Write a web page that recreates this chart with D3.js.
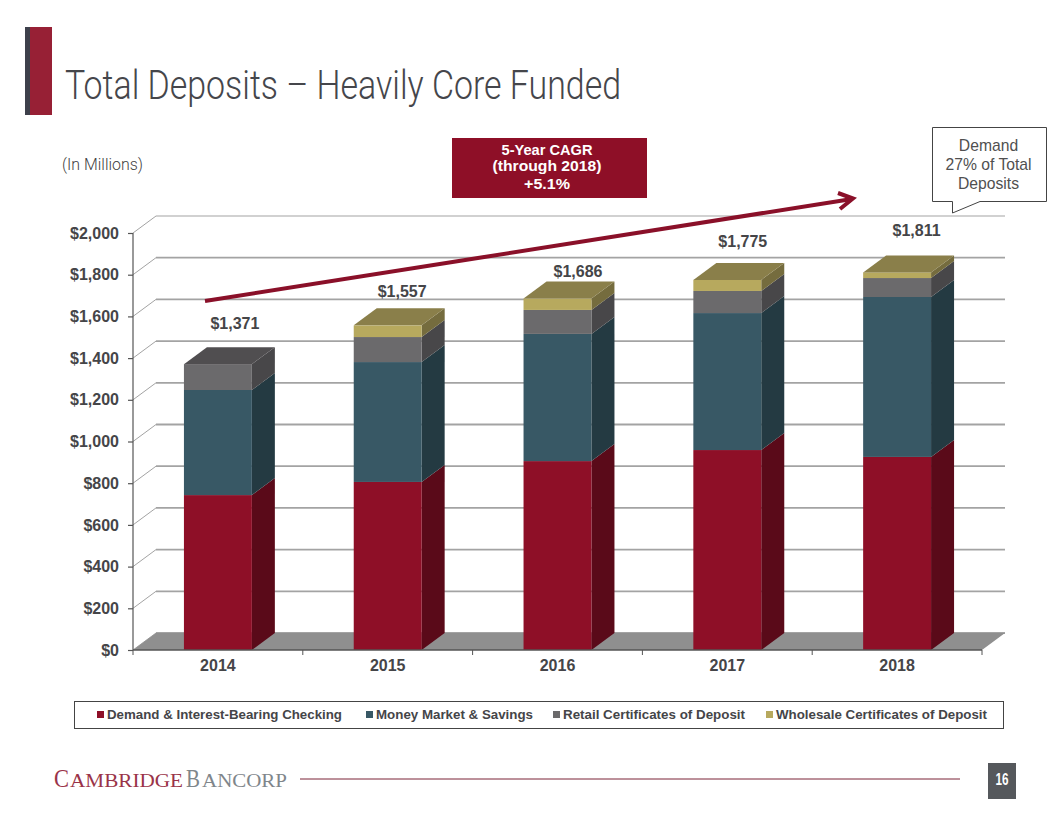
<!DOCTYPE html>
<html><head><meta charset="utf-8">
<script src="https://cdnjs.cloudflare.com/ajax/libs/d3/7.8.5/d3.min.js"></script>
<style>html,body{margin:0;padding:0;background:#fff}svg{display:block}text{font-family:"Liberation Sans",Arial,sans-serif}</style>
</head><body><svg id="c" width="1056" height="816"></svg>
<script>
const years=["2014","2015","2016","2017","2018"];
const seriesNames=["Demand & Interest-Bearing Checking","Money Market & Savings","Retail Certificates of Deposit","Wholesale Certificates of Deposit"];
const demand=[743,806,906,959,926];
const moneyMarket=[504,575,610,657,767];
const retailCd=[124,120,115,106,91];
const wholesaleCd=[0,56,55,53,27];
const totals=[1371,1557,1686,1775,1811];
const yTicks=[0,200,400,600,800,1000,1200,1400,1600,1800,2000];

const frontColors=["#8e0f27","#385865","#6b6a6c","#b7a95e"];
const sideColors=["#5a0a19","#243a42","#484749","#756c3e"];
const topColors=["#5f0b1b","#26404a","#504e50","#8a7f4a"];
const labelGap=[23,16,9,21,24];
const labelShift=[5.5,3,9,4,8];

const svg=d3.select("#c");
const ink="#454548";
const depthX=23, depthY=17;
const x=d3.scaleBand().domain(years).range([133,982]).paddingInner(0.6).paddingOuter(0.3);
const y=d3.scaleLinear().domain([0,2000]).range([650,233]);
const cat=d3.scaleBand().domain(years).range([133,982]);

// header
svg.append("rect").attr("x",25).attr("y",27).attr("width",5).attr("height",88).attr("fill","#3d404b");
svg.append("rect").attr("x",30).attr("y",27).attr("width",22).attr("height",88).attr("fill","#972035");
svg.append("text").attr("x",65).attr("y",99).attr("font-size",40).attr("font-weight",300).attr("fill","#45464b")
  .attr("textLength",556).attr("lengthAdjust","spacingAndGlyphs")
  .style("font-family","Roboto,'Liberation Sans'").text("Total Deposits – Heavily Core Funded");
svg.append("text").attr("x",62).attr("y",170).attr("font-size",16.5).attr("font-weight",300).attr("fill","#3f3f42")
  .attr("textLength",81).attr("lengthAdjust","spacingAndGlyphs")
  .style("font-family","Roboto,'Liberation Sans'").text("(In  Millions)");

// back wall grid
const g=svg.append("g");
g.selectAll("line.grid").data(yTicks).join("line").attr("class","grid")
  .attr("x1",133+depthX).attr("x2",1005)
  .attr("y1",d=>y(d)-depthY).attr("y2",d=>y(d)-depthY)
  .attr("stroke","#a3a3a3").attr("stroke-width",d=>d===2000?1.2:1.8);
g.selectAll("line.slant").data(yTicks).join("line").attr("class","slant")
  .attr("x1",133).attr("x2",133+depthX)
  .attr("y1",d=>y(d)).attr("y2",d=>y(d)-depthY)
  .attr("stroke","#a3a3a3").attr("stroke-width",1);
// floor
g.append("polygon").attr("points",[[133,y(0)],[133+depthX,y(0)-depthY],[982+depthX,y(0)-depthY],[982,y(0)]].join(" "))
  .attr("fill","#8f8f8f");

// bars
const stacks=d3.stack().keys([0,1,2,3]).value((d,k)=>d[k])(years.map((_,i)=>[demand[i],moneyMarket[i],retailCd[i],wholesaleCd[i]]));
const bw=x.bandwidth();
years.forEach((yr,i)=>{
  const bar=g.append("g");
  const x0=x(yr), x1=x0+bw;
  stacks.forEach((s,k)=>{
    const [a,b]=s[i];
    if(b-a<=0) return;
    bar.append("polygon").attr("points",[[x1,y(a)],[x1,y(b)],[x1+depthX,y(b)-depthY],[x1+depthX,y(a)-depthY]].join(" ")).attr("fill",sideColors[k]);
    bar.append("rect").attr("x",x0).attr("y",y(b)).attr("width",bw).attr("height",y(a)-y(b)).attr("fill",frontColors[k]);
  });
  const topK=wholesaleCd[i]>0?3:2, t=y(stacks[topK][i][1]);
  bar.append("polygon").attr("points",[[x0,t],[x1,t],[x1+depthX,t-depthY],[x0+depthX,t-depthY]].join(" ")).attr("fill",topColors[topK]);
  svg.append("text").attr("x",x0+bw/2+depthX/2+labelShift[i]).attr("y",t-depthY-labelGap[i]+5)
    .attr("text-anchor","middle").attr("font-size",16).attr("font-weight","bold").attr("fill",ink)
    .text(d3.format("$,")(totals[i]));
});

// axes
const ya=svg.append("g").attr("transform","translate(133,0)")
  .call(d3.axisLeft(y).tickValues(yTicks).tickFormat(d3.format("$,")).tickSize(5).tickPadding(9));
ya.selectAll("text").attr("font-size",16).attr("font-weight","bold").attr("fill",ink).style("font-family","'Liberation Sans'");
ya.selectAll("line,path").attr("stroke","#555").attr("stroke-width",1.2);
ya.select("path").attr("d",`M0,${y(2000)}V${y(0)}`);
const xa=svg.append("g").attr("transform",`translate(0,${y(0)})`)
  .call(d3.axisBottom(cat).tickSize(0).tickPadding(10));
xa.selectAll("text").attr("font-size",16).attr("font-weight","bold").attr("fill",ink).style("font-family","'Liberation Sans'");
xa.select("path").attr("stroke","#555").attr("stroke-width",1.4).attr("d","M133,0H982");
svg.append("g").selectAll("line").data(d3.range(6)).join("line")
  .attr("x1",d=>133+d*cat.step()).attr("x2",d=>133+d*cat.step())
  .attr("y1",y(0)).attr("y2",y(0)+5).attr("stroke","#555");

// CAGR box and arrow
svg.append("rect").attr("x",452).attr("y",138).attr("width",195).attr("height",60).attr("fill","#8e0f27");
[["5-Year CAGR",154.5,91],["(through 2018)",170.5,109],["+5.1%",189,46]].forEach(([t,yy,w])=>{
  svg.append("text").attr("x",547-w/2).attr("y",yy).attr("font-size",13.8).attr("font-weight","bold").attr("fill","#fff")
    .attr("textLength",w).attr("lengthAdjust","spacingAndGlyphs").text(t);
});
svg.append("line").attr("x1",205).attr("y1",301).attr("x2",852).attr("y2",199).attr("stroke","#8a1029").attr("stroke-width",4);
svg.append("path").attr("d","M838,193L853,198.5L840,209").attr("fill","none").attr("stroke","#8a1029").attr("stroke-width",4);

// callout
svg.append("path").attr("d","M932.5,127.5H1046.5V201.5H980L952.5,213V201.5H932.5Z").attr("fill","#fff").attr("stroke","#444").attr("stroke-width",1);
[["Demand",151],["27% of Total",170],["Deposits",189]].forEach(([t,yy])=>{
  svg.append("text").attr("x",988.5).attr("y",yy).attr("text-anchor","middle").attr("font-size",15.7).attr("fill","#505050").text(t);
});

// legend
svg.append("rect").attr("x",74.5).attr("y",701.5).attr("width",929).attr("height",27).attr("fill","#fff").attr("stroke","#444");
const legendX=[97,366,553,766];
const legendW=[235,157,182,211];
seriesNames.forEach((n,k)=>{
  svg.append("rect").attr("x",legendX[k]).attr("y",711).attr("width",7).attr("height",7).attr("fill",frontColors[k]);
  svg.append("text").attr("x",legendX[k]+10).attr("y",719).attr("font-size",13.3).attr("font-weight","bold").attr("fill",ink)
    .attr("textLength",legendW[k]).attr("lengthAdjust","spacingAndGlyphs").text(n);
});

// footer
const logoParts=[["C",54,15,25,"#9a3348"],["AMBRIDGE",70,113,19.5,"#9a3348"],["B",186,14,25,"#7f868b"],["ANCORP",202,85,19.5,"#7f868b"]];
logoParts.forEach(([t,lx,lw,fs,col])=>{
  svg.append("text").attr("x",lx).attr("y",787).attr("font-size",fs).attr("fill",col)
    .attr("textLength",lw).attr("lengthAdjust","spacingAndGlyphs").style("font-family","'Liberation Serif'").text(t);
});
svg.append("line").attr("x1",300).attr("x2",960).attr("y1",779).attr("y2",779).attr("stroke","#7b2237").attr("stroke-width",1);
svg.append("rect").attr("x",988).attr("y",763).attr("width",28).attr("height",36).attr("fill","#55585c");
svg.append("text").attr("x",995.5).attr("y",785).attr("font-size",16).attr("font-weight","bold").attr("fill","#fff")
  .attr("textLength",13).attr("lengthAdjust","spacingAndGlyphs").text("16");
</script></body></html>
